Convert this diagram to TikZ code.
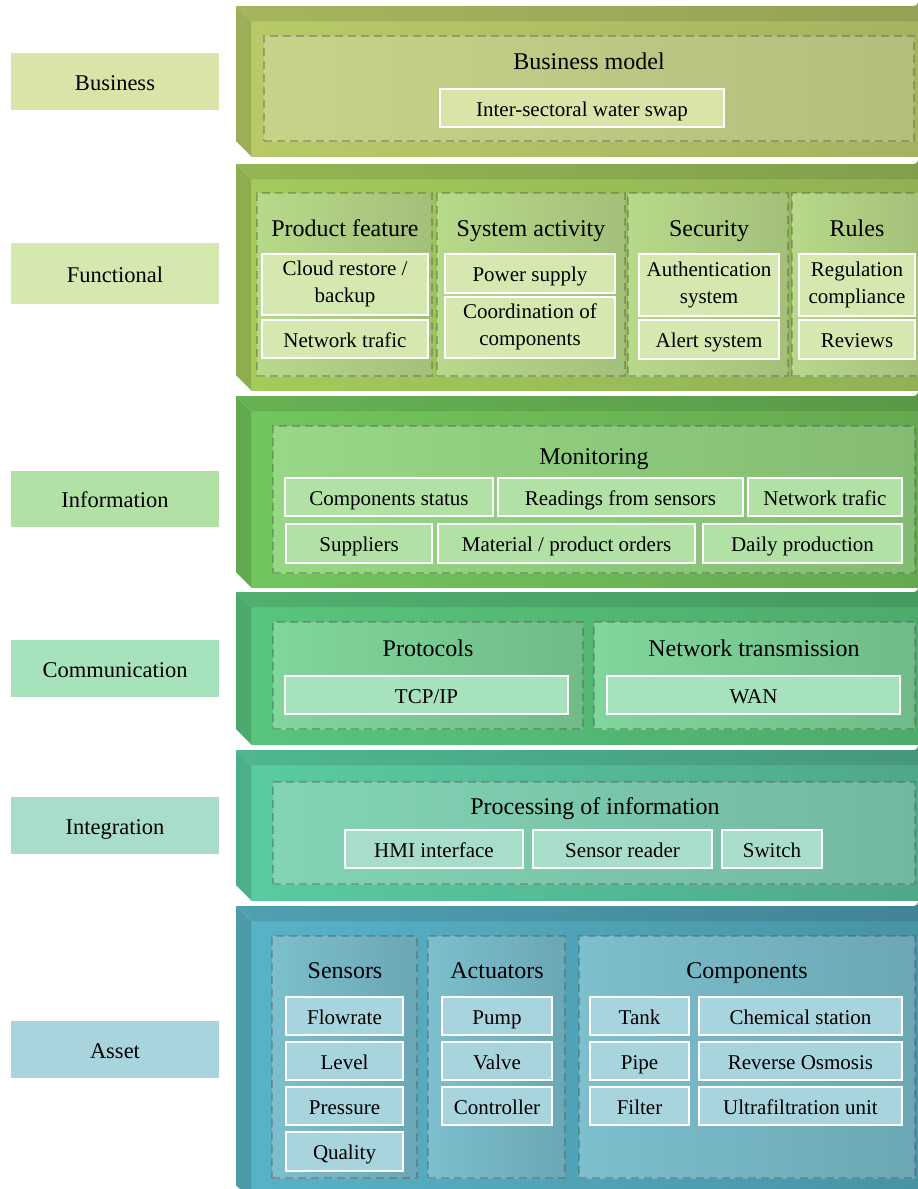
\documentclass[tikz,border=0pt]{standalone}
\usepackage{fontspec}
\setmainfont{Liberation Serif}
\usetikzlibrary{fit}
% colours
\definecolor{bizL}{HTML}{B7CA67}\definecolor{bizR}{HTML}{A7B25F}
\definecolor{bizGL}{HTML}{C6D389}\definecolor{bizGR}{HTML}{B5BD7D}
\definecolor{bizI}{HTML}{DBE4A8}
\definecolor{funL}{HTML}{A3CA5A}\definecolor{funR}{HTML}{8FB153}
\definecolor{funGL}{HTML}{B7D98A}\definecolor{funGR}{HTML}{A3C07A}
\definecolor{funI}{HTML}{D5E8B0}
\definecolor{infL}{HTML}{72C55C}\definecolor{infR}{HTML}{64A94F}
\definecolor{infGL}{HTML}{97D886}\definecolor{infGR}{HTML}{83BB72}
\definecolor{infI}{HTML}{B2E1A6}
\definecolor{comL}{HTML}{58C47C}\definecolor{comR}{HTML}{4DAB6B}
\definecolor{comGL}{HTML}{80D69C}\definecolor{comGR}{HTML}{70BB88}
\definecolor{comI}{HTML}{A6E2BB}
\definecolor{intL}{HTML}{58CBA0}\definecolor{intR}{HTML}{4EA88A}
\definecolor{intGL}{HTML}{82D4B5}\definecolor{intGR}{HTML}{72B89F}
\definecolor{intI}{HTML}{A8DEC9}
\definecolor{asL}{HTML}{58B2C6}\definecolor{asR}{HTML}{4893A6}
\definecolor{asGL}{HTML}{7DBFCD}\definecolor{asGR}{HTML}{6BA7B4}
\definecolor{asI}{HTML}{A8D4DE}
\newcommand\mystrut{\vrule width 0pt height 21pt depth 5pt\relax}
\newcommand\twolinestrut{\vrule width 0pt height 29pt depth 0pt\relax}
\newcommand\lblstrut{\vrule width 0pt height 22pt depth 5pt\relax}
\newcommand\hdrstrut{\vrule width 0pt height 21pt depth 6pt\relax}
\tikzset{
  lbl/.style={fill=#1, inner sep=0pt, font=\fontsize{22.5}{26}\selectfont,
    execute at begin node=\lblstrut},
  item/.style={fill=#1, draw=white, line width=1.4pt, inner sep=0pt, align=center,
    font=\fontsize{21}{27}\selectfont,
    execute at begin node=\mystrut, execute at end node=\mystrut},
  itemii/.style={item=#1, execute at begin node=\twolinestrut},
  hdr/.style={inner sep=0pt, font=\fontsize{24}{28}\selectfont,
    execute at begin node=\hdrstrut},
  grp/.style={draw=black!70, draw opacity=0.35, dash pattern=on 8pt off 5pt,
    line width=1.8pt, inner sep=0pt},
}
\newcommand\boxnode[7]{%
  \pgfmathsetmacro\mycx{(#3+#5)/2}\pgfmathsetmacro\mycy{(#4+#6)/2}%
  \pgfmathsetmacro\myww{#5-#3}\pgfmathsetmacro\myhh{#6-#4}%
  \node[#1, minimum width=\myww pt, minimum height=\myhh pt] (#2) at (\mycx,\mycy) {#7};}
\newcommand\itm[7]{\boxnode{item=#7}{#1}{#2}{#3}{#4}{#5}{#6}}
\newcommand\itmii[7]{\boxnode{itemii=#7}{#1}{#2}{#3}{#4}{#5}{#6}}
\newcommand\lab[7]{\boxnode{lbl=#7}{#1}{#2}{#3}{#4}{#5}{#6}}
\newcommand\grpbox[7]{\node[grp, left color=#6, right color=#7, fit={(#2,#3) (#4,#5)}] (#1) {};}
\newcommand\lay[4]{%
  \shade[left color=#3, right color=#4] (251,#1+15) rectangle (918,#2);
  \shade[left color=#3!90!black, right color=#4!90!black] (236,#1) -- (914,#1) arc (90:0:4) -- (918,#1+15) -- (251,#1+15) -- cycle;
  \fill[#3!86!black] (236,#1) -- (251,#1+15) -- (251,#2) -- (236,#2-15) -- cycle;}
\begin{document}
\begin{tikzpicture}[x=1pt,y=-1pt]
\useasboundingbox (0,0) rectangle (918,1189);
\clip (0,0) rectangle (918,1189);
\fill[white] (0,0) rectangle (918,1189);

% ---------- left labels ----------
\lab{lBus}{11}{53}{219}{110}{Business}{bizI}
\lab{lFun}{11}{243}{219}{304}{Functional}{funI}
\lab{lInf}{11}{471}{219}{527}{Information}{infI}
\lab{lCom}{11}{640}{219}{697}{Communication}{comI}
\lab{lInt}{11}{797}{219}{854}{Integration}{intI}
\lab{lAs}{11}{1021}{219}{1078}{Asset}{asI}

% ---------- layers ----------
\lay{6}{156}{bizL}{bizR}
\lay{164}{390}{funL}{funR}
\lay{396}{587}{infL}{infR}
\lay{592}{744}{comL}{comR}
\lay{750}{900}{intL}{intR}
\lay{906}{1200}{asL}{asR}

% ---------- Business ----------
\grpbox{gBus}{264}{36}{914}{141}{bizGL}{bizGR}
\node[hdr] (hBus) at (589,62) {Business model};
\itm{iSwap}{440}{89}{724}{127}{Inter-sectoral water swap}{bizI}

% ---------- Functional ----------
\grpbox{gProd}{257}{193}{432}{376}{funGL}{funGR}
\grpbox{gSys}{437}{193}{625}{376}{funGL}{funGR}
\grpbox{gSec}{628}{193}{788}{376}{funGL}{funGR}
\grpbox{gRul}{792}{193}{924}{376}{funGL}{funGR}
\node[hdr] (hProd) at (345,229) {Product feature};
\node[hdr] (hSys) at (531,229) {System activity};
\node[hdr] (hSec) at (709,229) {Security};
\node[hdr] (hRul) at (857,229) {Rules};
\itmii{iCloud}{262}{254}{428}{315}{Cloud restore /\\backup}{funI}
\itm{iNet}{262}{320}{428}{358}{Network trafic}{funI}
\itm{iPow}{445}{254}{615}{293}{Power supply}{funI}
\itmii{iCoord}{445}{297}{615}{358}{Coordination of\\components}{funI}
\itmii{iAuth}{639}{254}{779}{316}{Authentication\\system}{funI}
\itm{iAlert}{639}{320}{779}{359}{Alert system}{funI}
\itmii{iReg}{799}{254}{915}{316}{Regulation\\compliance}{funI}
\itm{iRev}{799}{320}{915}{359}{Reviews}{funI}

% ---------- Information ----------
\grpbox{gMon}{273}{426}{915}{573}{infGL}{infGR}
\node[hdr] (hMon) at (594,457) {Monitoring};
\itm{iComp}{285}{478}{493}{516}{Components status}{infI}
\itm{iRead}{498}{478}{743}{516}{Readings from sensors}{infI}
\itm{iNet2}{748}{478}{902}{516}{Network trafic}{infI}
\itm{iSup}{286}{524}{432}{563}{Suppliers}{infI}
\itm{iMat}{438}{524}{695}{563}{Material / product orders}{infI}
\itm{iDaily}{703}{524}{902}{563}{Daily production}{infI}

% ---------- Communication ----------
\grpbox{gProt}{273}{622}{583}{729}{comGL}{comGR}
\grpbox{gTrans}{594}{622}{915}{729}{comGL}{comGR}
\node[hdr] (hProt) at (428,649) {Protocols};
\node[hdr] (hTrans) at (754,649) {Network transmission};
\itm{iTcp}{285}{676}{568}{714}{TCP/IP}{comI}
\itm{iWan}{607}{676}{900}{714}{WAN}{comI}

% ---------- Integration ----------
\grpbox{gProc}{273}{782}{915}{884}{intGL}{intGR}
\node[hdr] (hProc) at (595,807) {Processing of information};
\itm{iHmi}{345}{830}{523}{868}{HMI interface}{intI}
\itm{iSens}{533}{830}{712}{868}{Sensor reader}{intI}
\itm{iSw}{722}{830}{822}{868}{Switch}{intI}

% ---------- Asset ----------
\grpbox{gSensors}{272}{936}{417}{1178}{asGL}{asGR}
\grpbox{gAct}{428}{936}{565}{1178}{asGL}{asGR}
\grpbox{gCompo}{579}{936}{915}{1178}{asGL}{asGR}
\node[hdr] (hSensors) at (345,971) {Sensors};
\node[hdr] (hAct) at (497,971) {Actuators};
\node[hdr] (hCompo) at (747,971) {Components};
\itm{iFlow}{286}{997}{403}{1035}{Flowrate}{asI}
\itm{iLevel}{286}{1042}{403}{1080}{Level}{asI}
\itm{iPress}{286}{1087}{403}{1125}{Pressure}{asI}
\itm{iQual}{286}{1132}{403}{1171}{Quality}{asI}
\itm{iPump}{442}{997}{552}{1035}{Pump}{asI}
\itm{iValve}{442}{1042}{552}{1080}{Valve}{asI}
\itm{iCtrl}{442}{1087}{552}{1125}{Controller}{asI}
\itm{iTank}{590}{997}{689}{1035}{Tank}{asI}
\itm{iPipe}{590}{1042}{689}{1080}{Pipe}{asI}
\itm{iFilt}{590}{1087}{689}{1125}{Filter}{asI}
\itm{iChem}{699}{997}{902}{1035}{Chemical station}{asI}
\itm{iRO}{699}{1042}{902}{1080}{Reverse Osmosis}{asI}
\itm{iUF}{699}{1087}{902}{1125}{Ultrafiltration unit}{asI}
\end{tikzpicture}
\end{document}
